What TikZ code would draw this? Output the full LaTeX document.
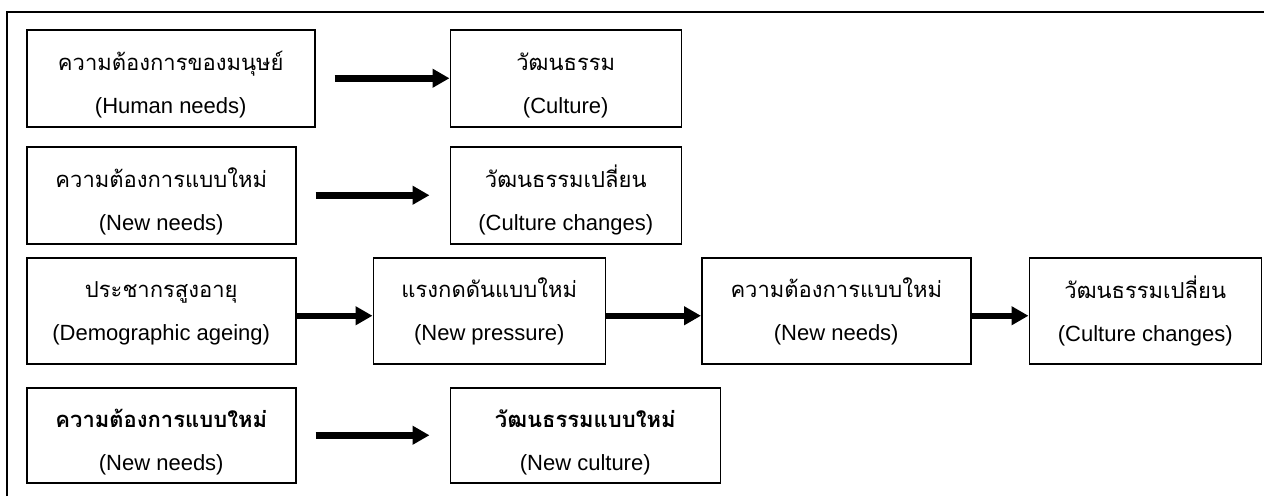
\documentclass[tikz,border=0pt]{standalone}
\usepackage{fontspec}
\setmainfont{Liberation Sans}
\newfontfamily\thaifont[Script=Thai]{Loma}
\usetikzlibrary{positioning,arrows.meta}
\tikzset{
	idea/.style={draw,line width=1.5pt,inner sep=0pt,align=center,
		font=\fontsize{22}{43}\selectfont},
	flow/.style={-{Triangle[length=17pt,width=18pt]},line width=6.5pt},
	gapped/.style={shorten <=19pt,shorten >=20pt},
	frame/.style={line width=2pt}
}
\newcommand{\twoline}[3][32pt]{\rule{0pt}{#1}{\thaifont\fontsize{22}{43}\selectfont #2}\\\rule[-5pt]{0pt}{5pt}#3}

\begin{document}
\begin{tikzpicture}[x=1pt,y=1pt]
	\useasboundingbox (0,0) rectangle (1264,-496);
	\draw[frame] (7,-496) -- (7,-12) -- (1264,-12);
	
	\node[idea,minimum width=288pt,minimum height=97pt,anchor=north west] (human) at (26,-29) {\twoline{ความต้องการของมนุษย์}{(Human needs)}};
	\node[idea,minimum width=231pt,minimum height=97pt] (culture) [right=134pt of human] {\twoline{วัฒนธรรม}{(Culture)}};
	
	\node[idea,minimum width=269pt,minimum height=97pt,anchor=north west] (needs) at (26,-146) {\twoline{ความต้องการแบบใหม่}{(New needs)}};
	\node[idea,minimum width=231pt,minimum height=97pt] (change) [right=153pt of needs] {\twoline{วัฒนธรรมเปลี่ยน}{(Culture changes)}};
	
	\node[idea,minimum width=269pt,minimum height=106pt,anchor=north west] (ageing) at (26,-257) {\twoline[22pt]{ประชากรสูงอายุ}{(Demographic ageing)}};
	\node[idea,minimum width=232pt,minimum height=106pt] (pressure) [right=76pt of ageing] {\twoline[22pt]{แรงกดดันแบบใหม่}{(New pressure)}};
	\node[idea,minimum width=269pt,minimum height=106pt] (newneeds) [right=95pt of pressure] {\twoline[22pt]{ความต้องการแบบใหม่}{(New needs)}};
	\node[idea,minimum width=232pt,minimum height=106pt] (newchange) [right=57pt of newneeds] {\twoline[22pt]{วัฒนธรรมเปลี่ยน}{(Culture changes)}};
	
	\node[idea,minimum width=269pt,minimum height=95pt,anchor=north west] (needsb) at (26,-387) {\twoline{\textbf{ความต้องการแบบใหม่}}{(New needs)}};
	\node[idea,minimum width=270pt,minimum height=95pt] (newculture) [right=153pt of needsb] {\twoline{\textbf{วัฒนธรรมแบบใหม่}}{(New culture)}};
	
	\draw[flow,shorten <=19pt] (human) -- (culture);
	\draw[flow,gapped] (needs) -- (change);
	\draw[flow] ([yshift=-5pt]ageing.east) -- ([yshift=-5pt]pressure.west);
	\draw[flow] ([yshift=-5pt]pressure.east) -- ([yshift=-5pt]newneeds.west);
	\draw[flow] ([yshift=-5pt]newneeds.east) -- ([yshift=-5pt]newchange.west);
	\draw[flow,gapped] (needsb) -- (newculture);
\end{tikzpicture}
\end{document}
